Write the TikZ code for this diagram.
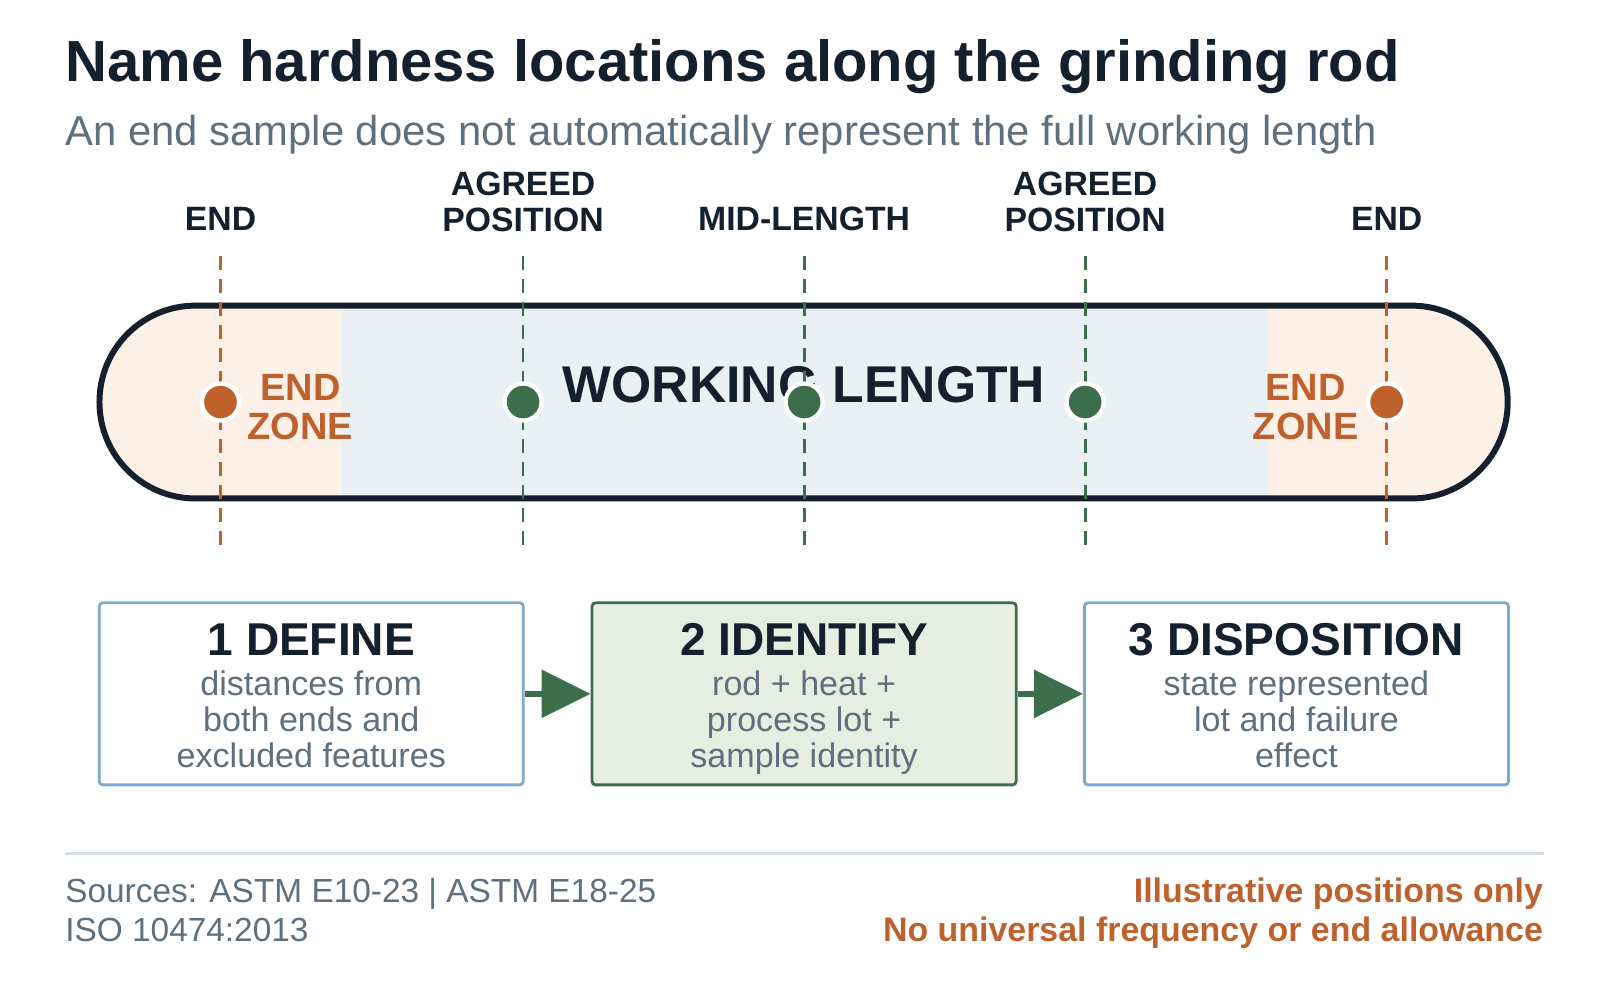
\documentclass[tikz,border=0pt]{standalone}
\usepackage{fontspec}
\setmainfont{Liberation Sans}
\usetikzlibrary{arrows.meta,positioning}
\definecolor{navy}{HTML}{15202E}
\definecolor{slate}{HTML}{5F6F7E}
\definecolor{rust}{HTML}{BF612D}
\definecolor{pine}{HTML}{3D6E4C}
\definecolor{skyline}{HTML}{7DAACB}
\definecolor{mist}{HTML}{EAF1F5}
\definecolor{peach}{HTML}{FDF0E6}
\definecolor{sage}{HTML}{E6EEE1}
\definecolor{rule}{HTML}{D5DDE6}
\tikzset{
    poslabel/.style={font=\fontsize{9.6}{10.2}\selectfont\bfseries, text=navy, align=center},
    marker/.style={dash pattern=on 4pt off 2.5pt, line width=0.8pt},
    spot/.style={circle, draw=white, line width=1.2pt, minimum size=0.37cm, inner sep=0pt},
    stepbox/.style={draw=skyline, line width=0.8pt, rounded corners=1pt, minimum width=4.24cm, minimum height=1.82cm, fill=white},
    steptitle/.style={font=\fontsize{13.1}{15}\selectfont\bfseries, text=navy},
    steptext/.style={font=\fontsize{9.7}{10.2}\selectfont, text=slate, align=center},
    flow/.style={pine, line width=1.7pt, -{Triangle[length=0.49cm,width=0.47cm]}}
}
\begin{document}
\begin{tikzpicture}[x=0.010256cm, y=-0.010256cm]
    \useasboundingbox (0,0) rectangle (1560,975);
    % titulo e subtitulo
    \node[anchor=base west, inner sep=0pt, font=\fontsize{16.5}{18}\selectfont\bfseries, text=navy] (title) at (63,79) {Name hardness locations along the grinding rod};
    \node[anchor=base west, inner sep=0pt, font=\fontsize{11.9}{13}\selectfont, text=slate] (subtitle) at (63,142) {An end sample does not automatically represent the full working length};
    % barra com zonas
    \begin{scope}
        \clip[rounded corners=0.96cm] (97,298) rectangle (1470,486);
        \fill[peach] (97,298) rectangle (333,486);
        \fill[mist] (333,298) rectangle (1236,486);
        \fill[peach] (1236,298) rectangle (1470,486);
    \end{scope}
    \draw[navy, line width=1.7pt, rounded corners=0.96cm] (97,298) rectangle (1470,486);
    \node[font=\fontsize{14.7}{16}\selectfont\bfseries, text=navy] (work) at (784,375) {WORKING LENGTH};
    \node[font=\fontsize{10.8}{11}\selectfont\bfseries, text=rust, align=center] (zoneL) at (293,397) {END\\ZONE};
    \node[font=\fontsize{10.8}{11}\selectfont\bfseries, text=rust, align=center] (zoneR) at (1273,397) {END\\ZONE};
    % linhas de posicao e pontos
    \foreach \x/\c/\n in {215/rust/a,510/pine/b,784/pine/c,1058/pine/d,1352/rust/e}{
        \coordinate (top\n) at (\x,250);
        \coordinate (bot\n) at (\x,535);
        \draw[marker, \c] (top\n) -- (bot\n);
        \node[spot, fill=\c] (pt\n) at (\x,392) {};
    }
    \node[poslabel] (labA) at (215,213) {END};
    \node[poslabel] (labB) at (510,197) {AGREED\\POSITION};
    \node[poslabel] (labC) at (784,213) {MID-LENGTH};
    \node[poslabel] (labD) at (1058,197) {AGREED\\POSITION};
    \node[poslabel] (labE) at (1352,213) {END};
    % passos
    \node[stepbox] (define) at (303.5,676.5) {};
    \node[stepbox, draw=pine, fill=sage] (identify) at (784,676.5) {};
    \node[stepbox] (dispo) at (1264,676.5) {};
    \foreach \b/\t/\s in {define/1 DEFINE/{distances from\\both ends and\\excluded features},
                          identify/2 IDENTIFY/{rod + heat +\\process lot +\\sample identity},
                          dispo/3 DISPOSITION/{state represented\\lot and failure\\effect}}{
        \node[steptitle] at ([yshift=-0.38cm]\b.north) {\t};
        \node[steptext, anchor=north] at ([yshift=-0.57cm]\b.north) {\s};
    }
    \draw[flow] (define.east) -- (identify.west);
    \draw[flow] (identify.east) -- (dispo.west);
    % rodape
    \draw[rule, line width=1pt] (63,832) -- (1505,832);
    \node[anchor=base west, inner sep=0pt, font=\fontsize{9.5}{11.1}\selectfont, text=slate, align=left] (src) at (63,918) {Sources: ASTM E10-23 | ASTM E18-25\\ISO 10474:2013};
    \node[anchor=base east, inner sep=0pt, font=\fontsize{9.65}{11.1}\selectfont\bfseries, text=rust, align=right] (note) at (1505,918) {Illustrative positions only\\No universal frequency or end allowance};
\end{tikzpicture}
\end{document}
